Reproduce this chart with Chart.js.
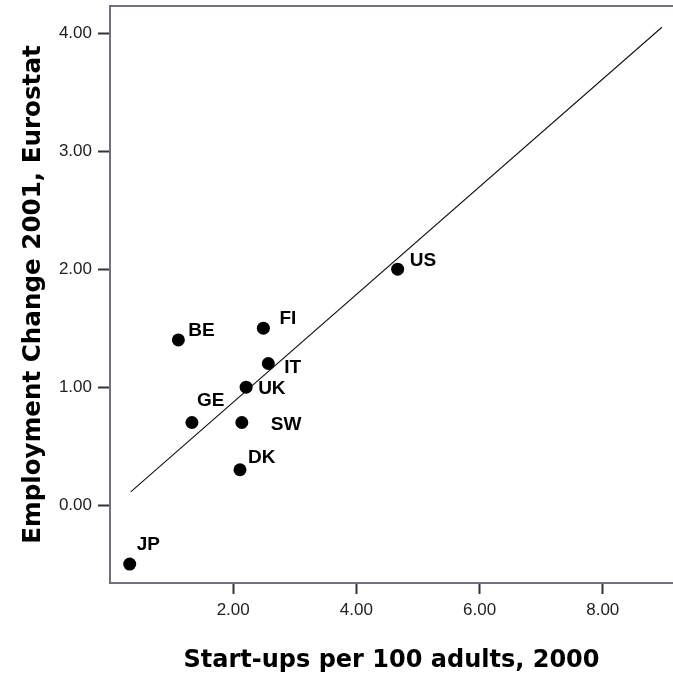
<!DOCTYPE html>
<html><head><meta charset="utf-8">
<script src="https://cdn.jsdelivr.net/npm/chart.js@4"></script>
<style>html,body{margin:0;padding:0;background:#fff}#wrap{width:673px;height:681px;position:relative}</style>
</head><body><div id="wrap"><canvas id="c" width="673" height="681"></canvas></div>
<script>
const countries = ['JP','BE','GE','FI','IT','UK','SW','DK','US'];
const startups = [0.32, 1.11, 1.33, 2.49, 2.57, 2.21, 2.14, 2.11, 4.67];
const employmentChange = [-0.5, 1.4, 0.7, 1.5, 1.2, 1.0, 0.7, 0.3, 2.0];
const fitX = [0.336, 8.96];
const fitY = [0.113, 4.05];
const xTicks = [2, 4, 6, 8];
const yTicks = [0, 1, 2, 3, 4];

const labelOffsets = [[7,-20],[10,-10],[5,-23],[16,-10],[16,3],[12,1],[29,1],[8,-13],[12,-9]];

function noPad(s) { s.paddingTop = 0; s.paddingBottom = 0; s.paddingLeft = 0; s.paddingRight = 0; }

const frame = {
  id: 'frame',
  afterDraw(chart) {
    const {ctx, chartArea} = chart;
    ctx.save();
    ctx.strokeStyle = '#707080';
    ctx.lineWidth = 2;
    ctx.beginPath();
    ctx.moveTo(chartArea.left - 1, chartArea.top);
    ctx.lineTo(chartArea.right, chartArea.top);
    ctx.stroke();
    ctx.restore();
  }
};
const pointLabels = {
  id: 'pointLabels',
  afterDatasetsDraw(chart) {
    const ctx = chart.ctx;
    const meta = chart.getDatasetMeta(0);
    ctx.save();
    ctx.font = 'bold 19px "Liberation Sans", Arial, sans-serif';
    ctx.fillStyle = '#000';
    ctx.textAlign = 'left';
    ctx.textBaseline = 'middle';
    meta.data.forEach((el, i) => {
      const o = labelOffsets[i];
      ctx.fillText(countries[i], el.x + o[0], el.y + o[1] + 1);
    });
    ctx.restore();
  }
};

new Chart(document.getElementById('c'), {
  data: {
    datasets: [
      {
        type: 'scatter',
        data: startups.map((x, i) => ({x, y: employmentChange[i]})),
        backgroundColor: '#000',
        borderWidth: 0,
        pointRadius: 6.5,
        pointHoverRadius: 6.5,
        clip: false
      },
      {
        type: 'line',
        data: fitX.map((x, i) => ({x, y: fitY[i]})),
        borderColor: '#111',
        borderWidth: 1.1,
        pointRadius: 0,
        fill: false
      }
    ]
  },
  options: {
    responsive: false,
    animation: false,
    devicePixelRatio: 1,
    layout: {autoPadding: false, padding: {top: 6, right: 0, left: 0, bottom: 0}},
    plugins: {legend: {display: false}, tooltip: {enabled: false}},
    scales: {
      x: {
        type: 'linear', position: 'bottom', min: 0, max: 9.14,
        afterBuildTicks: s => { s.ticks = xTicks.map(v => ({value: v})); },
        afterFit: s => { s.height = 98; noPad(s); },
        ticks: {callback: v => Number(v).toFixed(2), font: {family: 'Liberation Sans', size: 17}, color: '#222', padding: 6, maxRotation: 0, autoSkip: false},
        grid: {drawOnChartArea: false, drawTicks: true, tickLength: 11, tickColor: '#333', tickWidth: 2},
        border: {display: true, color: '#707080', width: 2},
        title: {display: true, text: 'Start-ups per 100 adults, 2000', font: {family: 'DejaVu Sans', size: 24, weight: 'bold'}, color: '#000', padding: {top: 0, bottom: 6}}
      },
      y: {
        type: 'linear', position: 'left', min: -0.66, max: 4.23,
        afterBuildTicks: s => { s.ticks = yTicks.map(v => ({value: v})); },
        afterFit: s => { s.width = 110; noPad(s); },
        ticks: {callback: v => Number(v).toFixed(2), font: {family: 'Liberation Sans', size: 17}, color: '#222', padding: 6, autoSkip: false},
        grid: {drawOnChartArea: false, drawTicks: true, tickLength: 12, tickColor: '#333', tickWidth: 2},
        border: {display: true, color: '#707080', width: 2},
        title: {display: true, text: 'Employment Change 2001, Eurostat', font: {family: 'DejaVu Sans', size: 24.6, weight: 'bold'}, color: '#000', padding: {top: 19, bottom: 0}}
      }
    }
  },
  plugins: [frame, pointLabels]
});
</script>
</body></html>
